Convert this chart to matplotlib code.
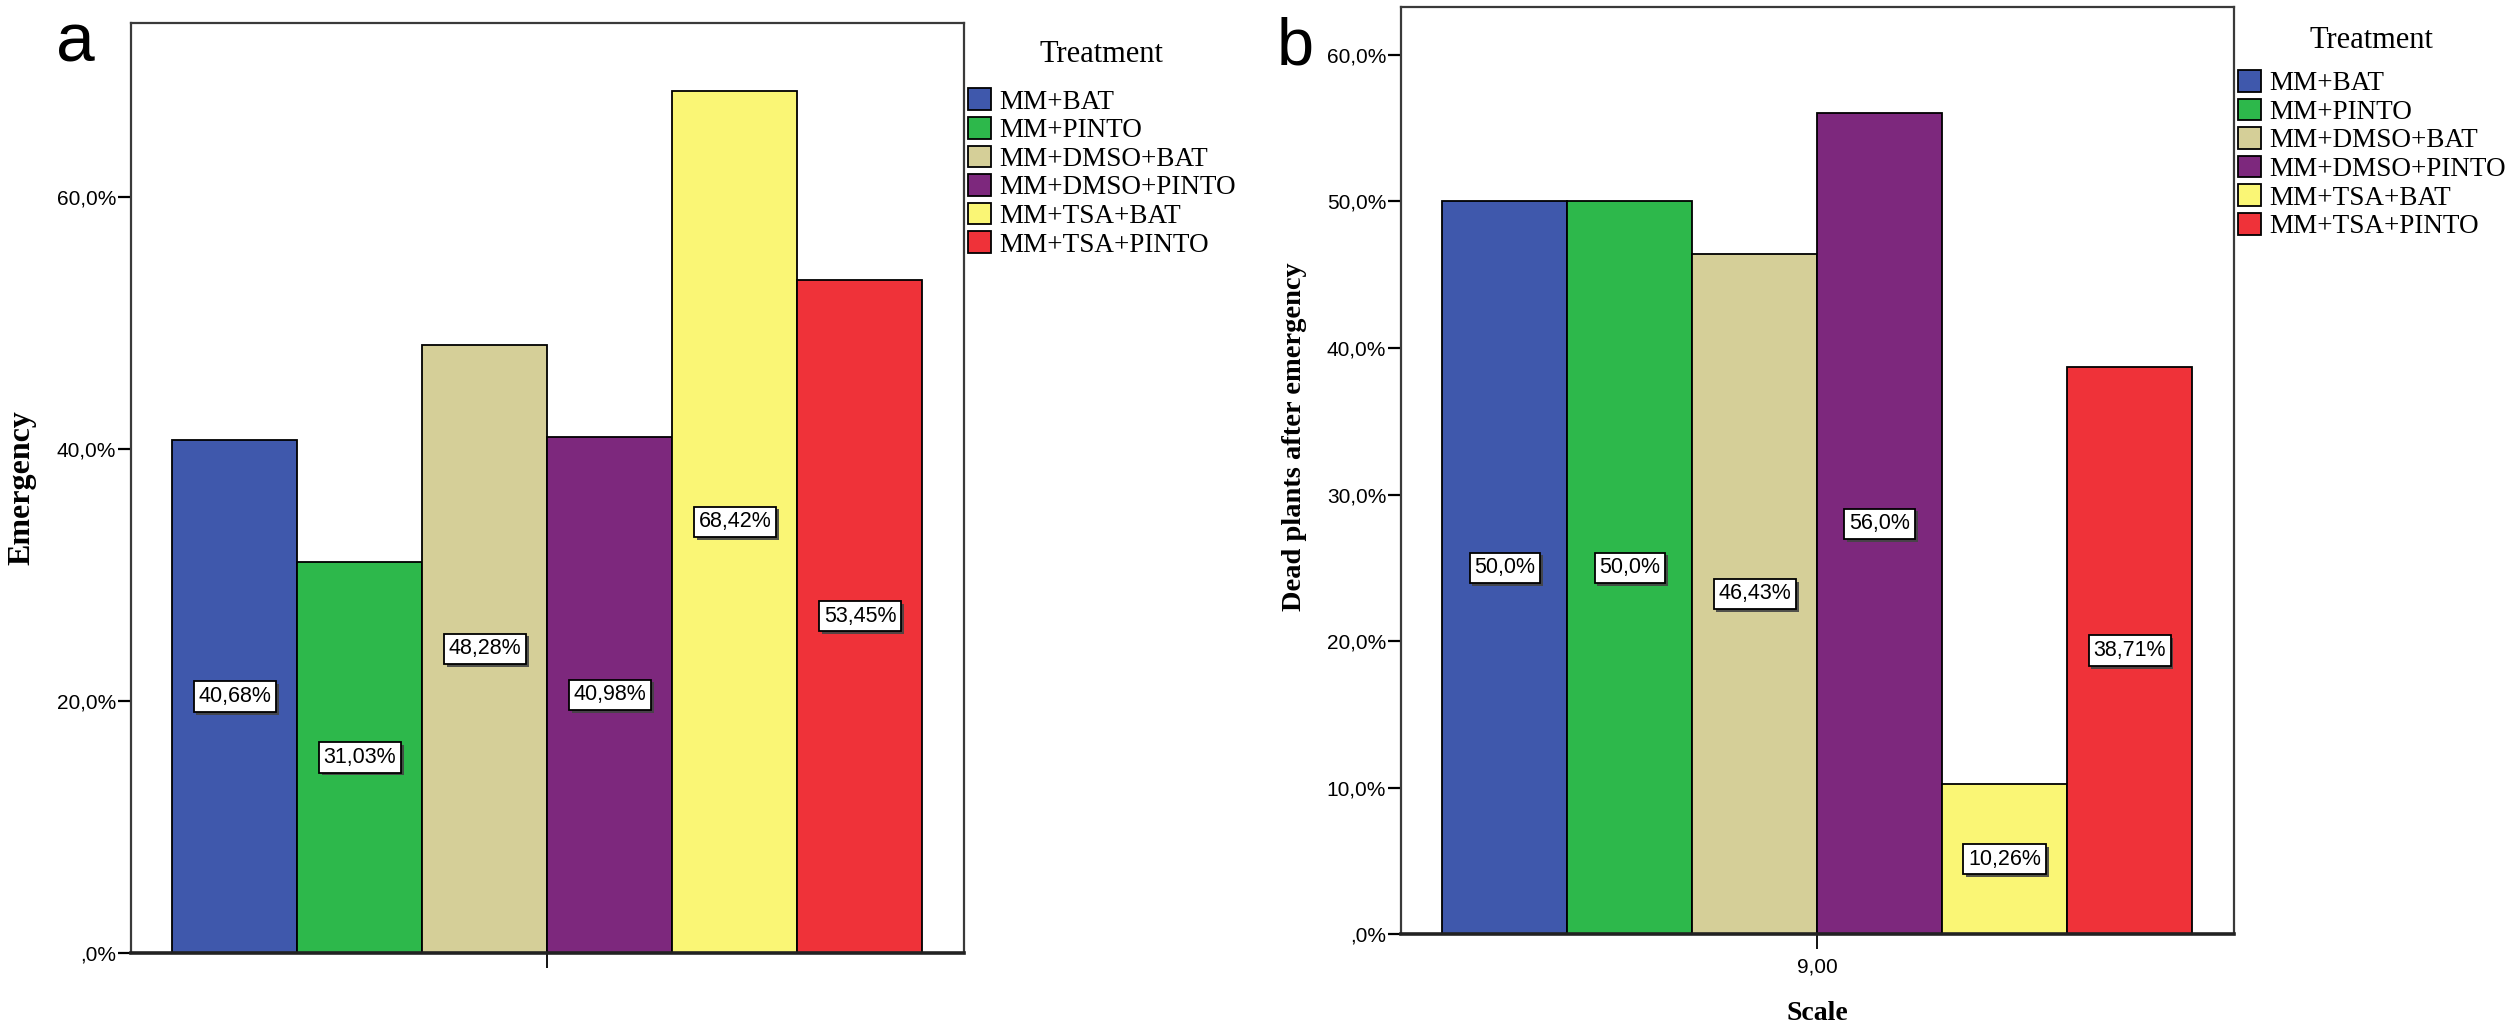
import matplotlib
matplotlib.use('Agg')
import matplotlib.pyplot as plt
import matplotlib.patheffects as pe
import numpy as np
from matplotlib.ticker import FuncFormatter

treatments = ['MM+BAT', 'MM+PINTO', 'MM+DMSO+BAT', 'MM+DMSO+PINTO',
              'MM+TSA+BAT', 'MM+TSA+PINTO']
colors = ['#3F58AC', '#2DB84B', '#D5CF98', '#7D287D', '#FAF675', '#EF3239']

emergency = [40.68, 31.03, 48.28, 40.98, 68.42, 53.45]
dead_plants = [50.0, 50.0, 46.43, 56.0, 10.26, 38.71]

yticks_a = [0, 20, 40, 60]
yticks_b = [0, 10, 20, 30, 40, 50, 60]
scale_tick = '9,00'

SERIF = ['Liberation Serif', 'DejaVu Serif']
SANS = ['Liberation Sans', 'DejaVu Sans']
plt.rcParams['font.family'] = SERIF


def pct_tick(v, pos):
    # SPSS style: ",0%" for zero, decimal comma
    if v == 0:
        return ',0%'
    return f'{v:.1f}'.replace('.', ',') + '%'


def pct_label(v):
    s = f'{v:.2f}'
    if s.endswith('0'):
        s = s[:-1]
    return s.replace('.', ',') + '%'


def draw_panel(fig, rect, values, yticks, ytop, ylabel, ylabel_size, ylabel_y,
               xtick, xlabel, legend_xy, title_xy):
    ax = fig.add_axes(rect)
    x = np.arange(len(values)) - (len(values) - 1) / 2
    bars = []
    for xi, v, c, name in zip(x, values, colors, treatments):
        b = ax.bar(xi, v, width=1.0, color=c, edgecolor='black', linewidth=1.3, label=name)
        bars.append(b)
        labs = ax.bar_label(b, labels=[pct_label(v)], label_type='center', fontsize=15.5,
                            family=SANS,
                            bbox=dict(boxstyle='square,pad=0.22', fc='white', ec='black', lw=1.3))
        for t in labs:
            t.get_bbox_patch().set_path_effects(
                [pe.SimplePatchShadow(offset=(2, -2), shadow_rgbFace='#444444', alpha=0.9),
                 pe.Normal()])

    ax.set_xlim(-3.333, 3.333)
    ax.set_ylim(0, ytop)
    ax.set_yticks(yticks)
    ax.yaxis.set_major_formatter(FuncFormatter(pct_tick))
    ax.set_xticks([0])
    ax.set_xticklabels([xtick])
    for lab in ax.get_yticklabels() + ax.get_xticklabels():
        lab.set_family(SANS)

    for s in ax.spines.values():
        s.set_color('#3a3a3a')
        s.set_linewidth(1.6)
    ax.spines['bottom'].set_linewidth(2.6)
    ax.spines['bottom'].set_color('#222222')

    ax.tick_params(axis='y', direction='out', length=9.5, width=1.6, pad=1, labelsize=15)
    ax.tick_params(axis='x', direction='out', length=11, width=1.3, pad=6, labelsize=15)

    ax.set_ylabel(ylabel, fontsize=ylabel_size, fontweight='bold')
    ax.yaxis.set_label_coords(-0.113, ylabel_y)
    if xlabel:
        ax.set_xlabel(xlabel, fontsize=20, fontweight='bold')
        ax.xaxis.set_label_coords(0.5, -0.072)

    ax.legend(handles=bars, labels=treatments, loc='upper left',
              bbox_to_anchor=legend_xy, bbox_transform=fig.transFigure,
              frameon=False, borderpad=0, borderaxespad=0,
              handlelength=0.85, handleheight=0.85, handletextpad=0.3,
              labelspacing=0.09, prop={'size': 19.5})
    fig.text(title_xy[0], title_xy[1], 'Treatment', fontsize=22, ha='center', va='center')
    return ax


fig = plt.figure(figsize=(25.08, 10.28), dpi=100)

draw_panel(fig, [0.0521, 0.0730, 0.3323, 0.9049], emergency, yticks_a, 73.83,
           'Emergency', 23, 0.5, '', None, (0.386, 0.914), (0.4393, 0.9465))
draw_panel(fig, [0.5585, 0.0911, 0.3321, 0.9018], dead_plants, yticks_b, 63.23,
           'Dead plants after emergency', 20.5, 0.537, scale_tick, 'Scale',
           (0.8923, 0.932), (0.9457, 0.961))

fig.text(0.0223, 0.940, 'a', fontsize=50, family='Liberation Sans', va='baseline')
fig.text(0.509, 0.937, 'b', fontsize=48, family='Liberation Sans', va='baseline')

fig.savefig('out.png', dpi=100)
